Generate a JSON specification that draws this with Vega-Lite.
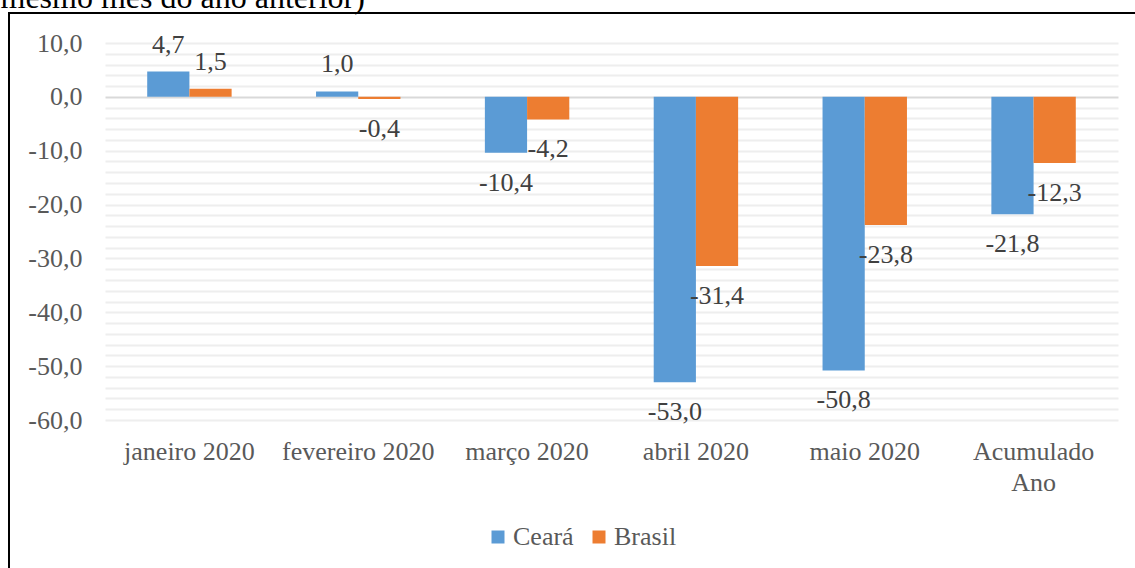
{
  "$schema": "https://vega.github.io/schema/vega-lite/v6.json",
  "width": 1140,
  "height": 570,
  "autosize": {"type": "none"},
  "padding": {"left": 9, "top": 13, "right": 0, "bottom": 0},
  "background": "white",
  "config": {
    "locale": {"number": {"decimal": ",", "thousands": ".", "grouping": [3], "currency": ["R$", ""], "minus": "-"}},
    "view": {"stroke": "#000000", "strokeWidth": 2},
    "font": "Liberation Serif"
  },
  "data": {
    "values": [
      {"periodo": "janeiro 2020", "serie": "Ceará", "valor": 4.7},
      {"periodo": "janeiro 2020", "serie": "Brasil", "valor": 1.5},
      {"periodo": "fevereiro 2020", "serie": "Ceará", "valor": 1.0},
      {"periodo": "fevereiro 2020", "serie": "Brasil", "valor": -0.4},
      {"periodo": "março 2020", "serie": "Ceará", "valor": -10.4},
      {"periodo": "março 2020", "serie": "Brasil", "valor": -4.2},
      {"periodo": "abril 2020", "serie": "Ceará", "valor": -53.0},
      {"periodo": "abril 2020", "serie": "Brasil", "valor": -31.4},
      {"periodo": "maio 2020", "serie": "Ceará", "valor": -50.8},
      {"periodo": "maio 2020", "serie": "Brasil", "valor": -23.8},
      {"periodo": "Acumulado Ano", "serie": "Ceará", "valor": -21.8},
      {"periodo": "Acumulado Ano", "serie": "Brasil", "valor": -12.3}
    ]
  },
  "encoding": {
    "x": {
      "field": "periodo",
      "type": "nominal",
      "sort": null,
      "scale": {"range": [96, 1109], "paddingInner": 0.5, "paddingOuter": 0.25},
      "axis": {
        "title": null,
        "orient": "bottom",
        "offset": -145,
        "ticks": false,
        "domain": false,
        "grid": false,
        "labelPadding": 0,
        "labelBaseline": "top",
        "labelFontSize": 26,
        "labelFont": "Liberation Serif",
        "labelColor": "#595959",
        "labelAngle": 0,
        "labelLineHeight": 31,
        "labelOverlap": false,
        "labelLimit": 300,
        "labelExpr": "datum.label == 'Acumulado Ano' ? ['Acumulado', 'Ano'] : datum.label"
      }
    },
    "xOffset": {"field": "serie", "type": "nominal", "sort": null, "scale": {"domain": ["Ceará", "Brasil"]}},
    "y": {
      "field": "valor",
      "type": "quantitative",
      "scale": {"domain": [-60, 10], "range": [407, 30], "nice": false, "zero": false},
      "axis": {
        "title": "mesmo mês do ano anterior)",
        "titleAngle": 0,
        "titleX": -82,
        "titleY": -6,
        "titleAlign": "left",
        "titleBaseline": "alphabetic",
        "titleFont": "Liberation Serif",
        "titleFontSize": 32,
        "titleFontWeight": "normal",
        "titleColor": "#000000",
        "titleLimit": 1000,
        "orient": "left",
        "offset": -73,
        "ticks": false,
        "domain": false,
        "labelPadding": 0,
        "labelFontSize": 26,
        "labelFont": "Liberation Serif",
        "labelColor": "#595959",
        "labelOverlap": false,
        "values": [-60, -58, -56, -54, -52, -50, -48, -46, -44, -42, -40, -38, -36, -34, -32, -30, -28, -26, -24, -22, -20, -18, -16, -14, -12, -10, -8, -6, -4, -2, 0, 2, 4, 6, 8, 10],
        "labelExpr": "datum.value % 10 === 0 ? replace(replace(format(datum.value, '.1f'), '.', ','), '−', '-') : ''",
        "grid": true,
        "gridColor": {"condition": {"test": "datum.value === 0", "value": "#d9d9d9"}, "value": "#eeeeee"},
        "gridWidth": 2
      }
    }
  },
  "layer": [
    {
      "mark": {"type": "bar"},
      "encoding": {
        "color": {
          "field": "serie",
          "type": "nominal",
          "sort": ["Ceará", "Brasil"],
          "scale": {"domain": ["Ceará", "Brasil"], "range": ["#5B9BD5", "#ED7D31"]},
          "legend": {
            "orient": "none",
            "legendX": 476,
            "legendY": 511,
            "direction": "horizontal",
            "title": null,
            "symbolType": "square",
            "symbolSize": 169,
            "symbolStrokeWidth": 0,
            "symbolOpacity": 1,
            "labelFontSize": 26,
            "labelColor": "#595959",
            "labelFont": "Liberation Serif",
            "labelOffset": 2,
            "columnPadding": 12,
            "padding": 0
          }
        }
      }
    },
    {
      "transform": [{"filter": "datum.valor >= 0"}],
      "mark": {"type": "text", "dy": -27, "baseline": "middle", "fontSize": 26, "font": "Liberation Serif", "color": "#404040"},
      "encoding": {"text": {"field": "valor", "type": "quantitative", "format": ".1f"}}
    },
    {
      "transform": [{"filter": "datum.valor < 0"}],
      "mark": {"type": "text", "dy": 30, "baseline": "middle", "fontSize": 26, "font": "Liberation Serif", "color": "#404040"},
      "encoding": {"text": {"field": "valor", "type": "quantitative", "format": ".1f"}}
    }
  ]
}
